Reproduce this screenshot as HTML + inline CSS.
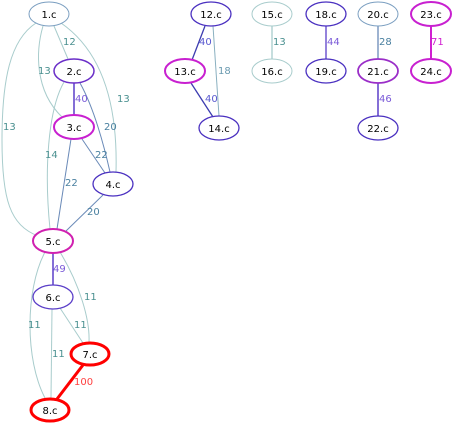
<!DOCTYPE html>
<html><head><style>body{margin:0;background:#fff}svg{display:block}text{font-family:"DejaVu Sans","Liberation Sans",sans-serif;font-size:10px}</style></head><body>
<svg width="454" height="426" viewBox="0 0 454 426" xmlns="http://www.w3.org/2000/svg">
<g fill="none">
<path d="M36,23 C10,40 2,80 2,140 C2,200 10,225 38,236" stroke="#a8cccc"/>
<path d="M43,26 C36,50 34,90 62,117" stroke="#a8cccc"/>
<path d="M54,26 L68,59" stroke="#a8cccc"/>
<path d="M61,23 C100,50 118,100 116,172" stroke="#a8cccc"/>
<path d="M74,83 L74,115" stroke="#5a3ec8" stroke-width="1.5"/>
<path d="M64,82 C48,110 44,170 50,229" stroke="#a8cccc"/>
<path d="M80,83 C95,110 105,150 110,172" stroke="#6a8ab8"/>
<path d="M82,139 L105,173" stroke="#6a8ab8"/>
<path d="M71,139 L57,229" stroke="#6a8ab8"/>
<path d="M103,195 L66,231" stroke="#6a8ab8"/>
<path d="M53,253 L53,285" stroke="#5a3ec8" stroke-width="1.5"/>
<path d="M45,252 C25,290 25,360 45,398" stroke="#a8cccc"/>
<path d="M60,252 C80,285 90,320 89,342" stroke="#a8cccc"/>
<path d="M60,308 L83,343" stroke="#a8cccc"/>
<path d="M52,309 L51,398" stroke="#a8cccc"/>
<path d="M83,365 L57,399" stroke="#ff0000" stroke-width="3"/>
<path d="M205,26 L192,60" stroke="#3c3cb0" stroke-width="1.3"/>
<path d="M213,26 L219,116" stroke="#8ab0c0"/>
<path d="M191,83 L213,117" stroke="#3c3cb0" stroke-width="1.3"/>
<path d="M272,26 L272,59" stroke="#a8cccc" stroke-width="1.3"/>
<path d="M326,26 L326,59" stroke="#5a3ec8" stroke-width="1.3"/>
<path d="M378,26 L378,59" stroke="#6a8ab8" stroke-width="1.3"/>
<path d="M378,83 L378,116" stroke="#5a3ec8" stroke-width="1.5"/>
<path d="M431,26 L431,59" stroke="#d020d0" stroke-width="2"/>
</g>
<g font-size="9">
<text x="63" y="45" fill="#4a9090">12</text>
<text x="38" y="74" fill="#4a9090">13</text>
<text x="117" y="102" fill="#4a9090">13</text>
<text x="3" y="130" fill="#4a9090">13</text>
<text x="75" y="102" fill="#7a5ad8">40</text>
<text x="104" y="130" fill="#4a80a0">20</text>
<text x="45" y="158" fill="#4a9090">14</text>
<text x="95" y="158" fill="#4a80a0">22</text>
<text x="65" y="186" fill="#4a80a0">22</text>
<text x="87" y="215" fill="#4a80a0">20</text>
<text x="53" y="272" fill="#7a5ad8">49</text>
<text x="84" y="300" fill="#4a9090">11</text>
<text x="28" y="328" fill="#4a9090">11</text>
<text x="74" y="328" fill="#4a9090">11</text>
<text x="52" y="357" fill="#4a9090">11</text>
<text x="74" y="385" fill="#ff4040">100</text>
<text x="199" y="45" fill="#5a5ad0">40</text>
<text x="218" y="74" fill="#6a9ab0">18</text>
<text x="205" y="102" fill="#5a5ad0">40</text>
<text x="273" y="45" fill="#4a9090">13</text>
<text x="327" y="45" fill="#7a5ad8">44</text>
<text x="379" y="45" fill="#4a80a0">28</text>
<text x="379" y="102" fill="#7a5ad8">46</text>
<text x="431" y="45" fill="#d020d0">71</text>
</g>
<g fill="#fff" text-anchor="middle">
<g stroke="#7a9ec0"><ellipse cx="49" cy="14" rx="20" ry="12"/></g>
<g stroke="#6a2ec8" stroke-width="1.5"><ellipse cx="74" cy="71" rx="20" ry="12"/></g>
<g stroke="#c820d0" stroke-width="2"><ellipse cx="74" cy="127" rx="20" ry="12"/></g>
<g stroke="#4a30c0" stroke-width="1.3"><ellipse cx="113" cy="184" rx="20" ry="12"/></g>
<g stroke="#d020b0" stroke-width="2"><ellipse cx="53" cy="241" rx="20" ry="12"/></g>
<g stroke="#5a3ec8" stroke-width="1.3"><ellipse cx="53" cy="297" rx="20" ry="12"/></g>
<g stroke="#ff0000" stroke-width="3"><ellipse cx="90" cy="354" rx="19" ry="11"/><ellipse cx="50" cy="410" rx="19" ry="11"/></g>
<g stroke="#4a30c0" stroke-width="1.3"><ellipse cx="211" cy="14" rx="20" ry="12"/><ellipse cx="219" cy="128" rx="20" ry="12"/><ellipse cx="326" cy="14" rx="20" ry="12"/><ellipse cx="326" cy="71" rx="20" ry="12"/><ellipse cx="378" cy="128" rx="20" ry="12"/></g>
<g stroke="#c820d0" stroke-width="2"><ellipse cx="185" cy="71" rx="20" ry="12"/><ellipse cx="431" cy="14" rx="20" ry="12"/><ellipse cx="431" cy="71" rx="20" ry="12"/></g>
<g stroke="#a8cccc"><ellipse cx="272" cy="14" rx="20" ry="12"/><ellipse cx="272" cy="71" rx="20" ry="12"/></g>
<g stroke="#7a9ec0"><ellipse cx="378" cy="14" rx="20" ry="12"/></g>
<g stroke="#9a2ec8" stroke-width="1.8"><ellipse cx="378" cy="71" rx="20" ry="12"/></g>
</g>
<g fill="#000" text-anchor="middle">
<text x="49" y="18">1.c</text><text x="74" y="75">2.c</text><text x="74" y="131">3.c</text><text x="113" y="188">4.c</text>
<text x="53" y="245">5.c</text><text x="53" y="301">6.c</text><text x="90" y="358">7.c</text><text x="50" y="414">8.c</text>
<text x="211" y="18">12.c</text><text x="185" y="75">13.c</text><text x="219" y="132">14.c</text>
<text x="272" y="18">15.c</text><text x="272" y="75">16.c</text><text x="326" y="18">18.c</text><text x="326" y="75">19.c</text>
<text x="378" y="18">20.c</text><text x="378" y="75">21.c</text><text x="378" y="132">22.c</text>
<text x="431" y="18">23.c</text><text x="431" y="75">24.c</text>
</g>
</svg>
</body></html>
